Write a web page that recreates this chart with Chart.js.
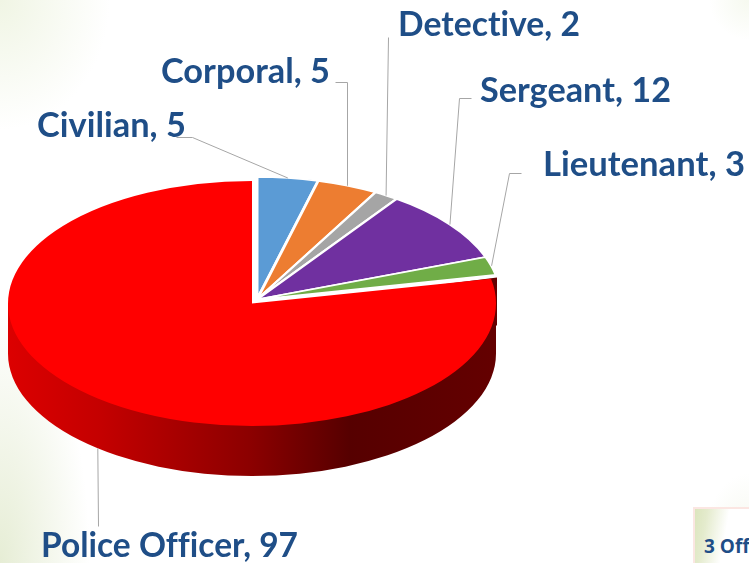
<!DOCTYPE html>
<html>
<head>
<meta charset="utf-8">
<script src="https://cdn.jsdelivr.net/npm/chart.js@4/dist/chart.umd.min.js"></script>
<style>
html,body{margin:0;padding:0;width:749px;height:563px;overflow:hidden;background:#fff;}
body{position:relative;background:
  radial-gradient(ellipse 110px 130px at 0 0,#f0f5e4 0,rgba(255,255,255,0) 100%),
  radial-gradient(ellipse 90px 250px at 0 100%,#e6edd5 0,rgba(255,255,255,0) 100%),
  radial-gradient(ellipse 40px 40px at 100% 0,#f6f9ef 0,rgba(255,255,255,0) 100%),
  radial-gradient(ellipse 50px 90px at 100% 100%,#f1f5e8 0,rgba(255,255,255,0) 100%),
  #fff;}
canvas{position:absolute;left:0;top:0;}
#box{position:absolute;left:693px;top:507px;width:56px;height:56px;box-sizing:border-box;overflow:hidden;
  border-left:2px solid #fbe6e2;border-top:2px solid #fbe6e2;
  background:linear-gradient(100deg,#dbe5bd 0,#e4ebcd 20%,#fff 55%);}
#box span{position:absolute;left:9px;top:26px;font:bold 19px "Open Sans",sans-serif;color:#1f4e87;white-space:nowrap;line-height:22px;}
</style>
</head>
<body>
<canvas id="c" width="749" height="563"></canvas>
<div id="box"><span>3 Off</span></div>
<script>
// Data
const categories=['Civilian','Corporal','Detective','Sergeant','Lieutenant','Police Officer'];
const officers=[5,5,2,12,3,97];
const sliceColors=['#5B9BD5','#ED7D31','#A5A5A5','#7030A0','#70AD47','#FF0000'];

// Fake 3D look
const squash=0.502, pieCenterY=303.5, depth=50;
const explodeX=5, explodeY=4; // screen px, all small slices move together
const labelFont='bold 35px Lato';
const labelColor='#1F4E87';
// text x, baseline y, text width, then the elbow points of the leader line
const labelLayout=[
  {x:37,y:137,w:149,leader:[[176,137],[192,137]]},
  {x:161,y:83,w:169,leader:[[335,82],[347,82]]},
  {x:398,y:36,w:182,leader:[[388,37]]},
  {x:480,y:102,w:191,leader:[[471,98],[459,98]]},
  {x:543,y:176,w:202,leader:[[521,173],[509,173]]},
  {x:41,y:557,w:257,leader:[[98,526]]}
];

const pie3d={
  id:'pie3d',
  afterDatasetsUpdate(chart){
    // pull the small slices away from the big red one
    const arcs=chart.getDatasetMeta(0).data;
    arcs.forEach((el,i)=>{
      if(i<arcs.length-1){ el.x+=explodeX; el.y-=explodeY/squash; }
    });
  },
  beforeDatasetsDraw(chart){
    const ctx=chart.ctx, arcs=chart.getDatasetMeta(0).data, el=arcs[arcs.length-1];
    const rx=el.outerRadius, ry=rx*squash, cx=el.x;
    // side wall of the red slice
    const g=ctx.createLinearGradient(cx-rx,0,cx+rx,0);
    g.addColorStop(0,'#dc0000');
    g.addColorStop(0.19,'#c40000');
    g.addColorStop(0.5,'#8b0000');
    g.addColorStop(0.7,'#560000');
    g.addColorStop(1,'#640000');
    ctx.save();
    ctx.fillStyle=g;
    ctx.beginPath();
    ctx.moveTo(cx+rx+1,pieCenterY-26);
    ctx.lineTo(cx+rx+1,pieCenterY+22);
    ctx.lineTo(cx+rx,pieCenterY+22);
    ctx.lineTo(cx+rx,pieCenterY+depth);
    ctx.ellipse(cx,pieCenterY+depth,rx,ry,0,0,Math.PI);
    ctx.lineTo(cx-rx,pieCenterY);
    ctx.lineTo(cx,pieCenterY+5); // stay under the red top, the gap by the centre stays white
    ctx.closePath();
    ctx.fill();
    ctx.restore();
    // flatten the top face
    ctx.save();
    ctx.translate(0,pieCenterY);
    ctx.scale(1,squash);
    ctx.translate(0,-el.y);
  },
  afterDatasetsDraw(chart){ chart.ctx.restore(); },
  afterDraw(chart){
    const ctx=chart.ctx, arcs=chart.getDatasetMeta(0).data, baseY=arcs[arcs.length-1].y;
    ctx.save();
    arcs.forEach((el,i)=>{
      const lay=labelLayout[i];
      const mid=(el.startAngle+el.endAngle)/2;
      const rimX=el.x+Math.cos(mid)*el.outerRadius;
      let rimY=pieCenterY+(el.y+Math.sin(mid)*el.outerRadius-baseY)*squash;
      if(Math.sin(mid)>0) rimY+=depth;
      // leader line
      ctx.strokeStyle='#a6a6a6';
      ctx.lineWidth=1;
      ctx.beginPath();
      lay.leader.forEach((p,j)=>{ if(j==0) ctx.moveTo(p[0]+0.5,p[1]+0.5); else ctx.lineTo(p[0]+0.5,p[1]+0.5); });
      ctx.lineTo(rimX,rimY);
      ctx.stroke();
      // label
      ctx.font=labelFont;
      ctx.letterSpacing='0.01px'; // no "ti" ligature
      ctx.fillStyle=labelColor;
      ctx.textBaseline='alphabetic';
      ctx.textAlign='left';
      ctx.fillText(categories[i]+', '+officers[i],lay.x,lay.y,lay.w);
    });
    ctx.restore();
  }
};

new Chart(document.getElementById('c').getContext('2d'),{
  type:'pie',
  data:{labels:categories,datasets:[{
    data:officers,
    backgroundColor:sliceColors,
    borderColor:'#ffffff',
    borderWidth:[3,3,3,3,3,0],
    radius:244
  }]},
  options:{
    responsive:false,
    animation:false,
    layout:{padding:{right:245}},
    plugins:{legend:{display:false},tooltip:{enabled:false}}
  },
  plugins:[pie3d]
});
</script>
</body>
</html>
